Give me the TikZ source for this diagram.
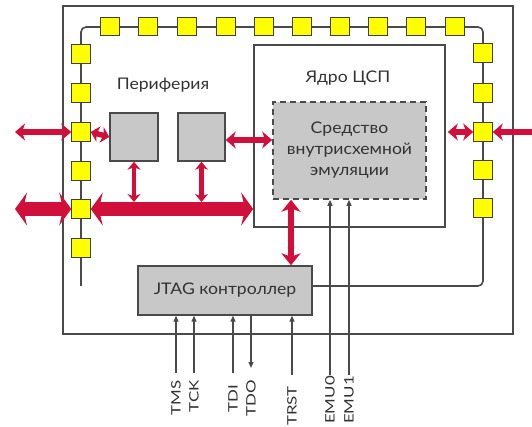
\documentclass[tikz,border=0pt]{standalone}
\usepackage{fontspec}
\setmainfont[FakeStretch=1.1]{Lato}
\newfontfamily\labfont[FakeStretch=1.3]{Lato}
\usetikzlibrary{arrows.meta}
\definecolor{dred}{HTML}{D0103A}
\definecolor{boxgray}{HTML}{C8C8C8}
\definecolor{linegray}{HTML}{4A4A4A}
\definecolor{pady}{HTML}{FFFF00}
\definecolor{txt}{HTML}{333333}
\begin{document}
\begin{tikzpicture}[x=1pt,y=-1pt,
  pad/.style={draw=black!75, fill=pady, line width=1pt, minimum size=18.5pt, inner sep=0pt},
  gbox/.style={draw=linegray, fill=boxgray, line width=1.4pt, inner sep=0pt},
  frame/.style={draw=linegray, line width=1.6pt, inner sep=0pt},
  chain/.style={draw=linegray, line width=1.6pt},
  maintext/.style={text=txt, font=\fontsize{16}{21}\selectfont},
  redthin/.style={draw=dred, line width=5.5pt, {Stealth[length=10pt,width=17pt,inset=3pt]}-{Stealth[length=10pt,width=17pt,inset=3pt]}},
  redshort/.style={draw=dred, line width=5.5pt, {Stealth[length=8pt,width=16pt,inset=2pt]}-{Stealth[length=8pt,width=16pt,inset=2pt]}},
  redone/.style={draw=dred, line width=5.5pt, -{Stealth[length=10pt,width=17pt,inset=3pt]}},
  redvert/.style={draw=dred, line width=4.5pt, {Stealth[length=8pt,width=13pt,inset=2.5pt]}-{Stealth[length=8pt,width=13pt,inset=2.5pt]}},
  redmid/.style={draw=dred, line width=6pt, {Stealth[length=12pt,width=19pt,inset=3.5pt]}-{Stealth[length=12pt,width=19pt,inset=3.5pt]}},
  redbus/.style={draw=dred, line width=14pt, {Stealth[length=12pt,width=33pt,inset=4pt]}-{Stealth[length=12pt,width=33pt,inset=4pt]}},
  sig/.style={draw=linegray, line width=1.3pt, -{Triangle[length=6pt,width=5pt]}},
  lab/.style={text=txt, font=\labfont\fontsize{13}{13}\selectfont, inner sep=0pt, rotate=90, anchor=east}
]
\useasboundingbox[fill=white] (0,0) rectangle (532,427);

% outer chip frame
\node[frame, minimum width=450pt, minimum height=328pt] (chip) at (288,170) {};

% DSP core
\node[frame, fill=white, minimum width=191pt, minimum height=182pt] (core) at (349.5,136) {};
\node[maintext] (corelab) at (348,78) {Ядро ЦСП};

% emulation block
\node[gbox, dashed, dash pattern=on 6pt off 4pt, line width=1.6pt, minimum width=153pt, minimum height=97pt, maintext, align=center] (emu) at (349.5,150.5) {Средство\\внутрисхемной\\эмуляции};

% peripheral blocks
\node[maintext] (perlab) at (163,85) {Периферия};
\node[gbox, minimum width=48pt, minimum height=48pt] (p1) at (134,137) {};
\node[gbox, minimum width=47pt, minimum height=48pt] (p2) at (201.5,137) {};

% JTAG controller
\node[gbox, minimum width=174pt, minimum height=49pt, maintext] (jtag) at (225,290.5) {JTAG контроллер};

% scan chain
\coordinate (lend) at (81,286);
\coordinate (ctl) at (81,27);
\coordinate (ctr) at (483,27);
\coordinate (jin) at ([yshift=4.5pt]jtag.east);
\draw[chain, rounded corners=5pt] (lend) -- (ctl) -- (ctr) |- (jin);

% pads
\foreach \x [count=\i] in {110,148,187,226,264,302,340,378,416,455}
  \node[pad] (t\i) at (\x,26.5) {};
\foreach \y [count=\i] in {54,93,132,171,209,248}
  \node[pad] (l\i) at (81,\y) {};
\foreach \y [count=\i] in {53,93,132,170,208}
  \node[pad] (r\i) at (483,\y) {};

% red data arrows
\coordinate (lin) at (15,132);
\coordinate (rin) at (532,132);
\coordinate (bin) at (15,209);
\draw[redthin] (lin) -- (l3.west);
\draw[redshort] (l3.east) -- (p1.west);
\coordinate (a3s) at ([yshift=-3pt]p2.east);
\draw[redthin] (a3s) -- (a3s -| emu.west);
\draw[redthin, shorten <=2pt] (core.east |- r3.west) -- (r3.west);
\draw[redone] (rin) -- (r3.east);
\draw[redbus] (bin) -- (l5.west);
\draw[redbus] (l5.east) -- (l5.east -| core.west);
\coordinate (bustop) at (0,202);
\draw[redvert] (p1.south) -- (p1.south |- bustop);
\draw[redvert] (p2.south) -- (p2.south |- bustop);
\coordinate (v3x) at (291,0);
\draw[redmid] (v3x |- emu.south) -- (v3x |- jtag.north);

% JTAG signals
\coordinate (tms) at (176,373);
\coordinate (tck) at (194,373);
\coordinate (tdi) at (233,373);
\coordinate (tdo) at (251,368);
\coordinate (trst) at (292,375);
\coordinate (emuA) at (330,375);
\coordinate (emuB) at (349,375);
\draw[sig] (tms) -- (tms |- jtag.south);
\draw[sig] (tck) -- (tck |- jtag.south);
\draw[sig] (tdi) -- (tdi |- jtag.south);
\draw[sig] (tdo |- jtag.south) -- (tdo);
\draw[sig] (trst) -- (trst |- jtag.south);
\draw[sig] (emuA) -- (emuA |- emu.south);
\draw[sig] (emuB) -- (emuB |- emu.south);

% labels
\node[lab] (ltms) at (176,380) {TMS};
\node[lab] (ltck) at (194,380) {TCK};
\node[lab] (ltdi) at (233,385) {TDI};
\node[lab] (ltdo) at (251,380) {TDO};
\node[lab] (ltrst) at (292,386) {TRST};
\node[lab] (lemuA) at (330,376) {EMU0};
\node[lab] (lemuB) at (349,376) {EMU1};
\end{tikzpicture}
\end{document}
